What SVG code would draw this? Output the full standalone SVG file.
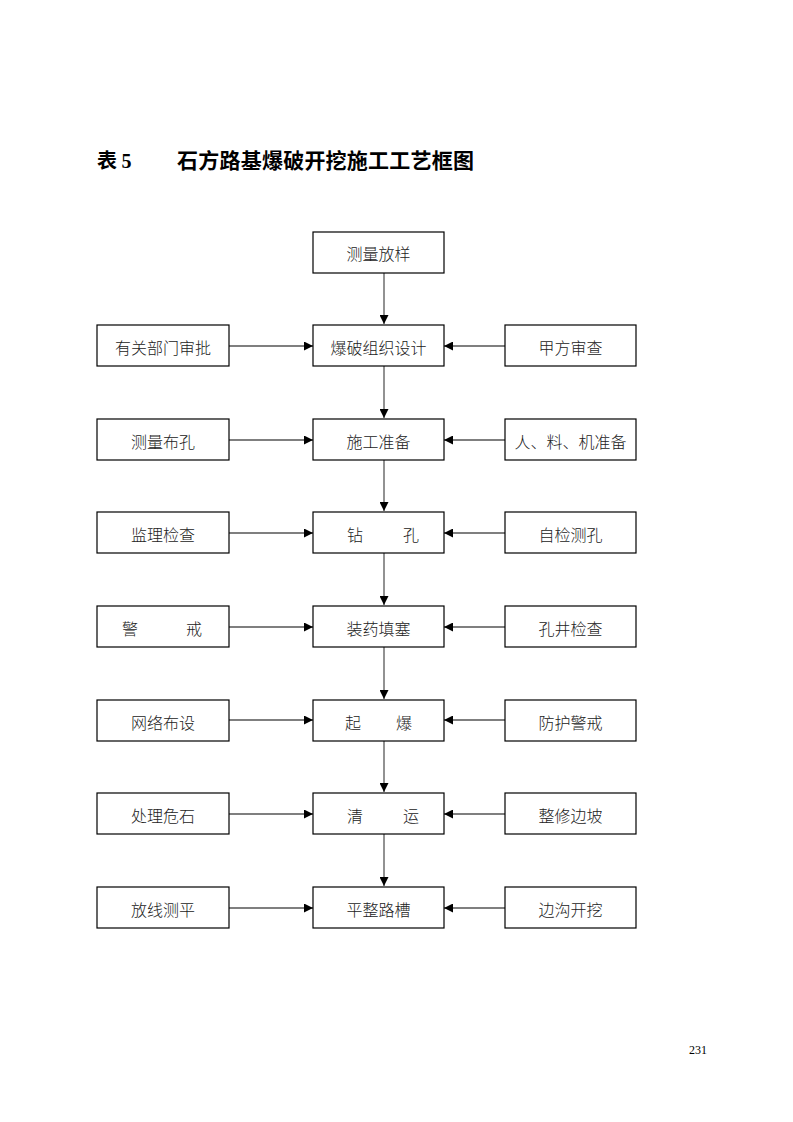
<svg xmlns="http://www.w3.org/2000/svg" width="793" height="1122" viewBox="0 0 793 1122">
<defs>
<style>
.b{fill:#fff;stroke:#000;stroke-width:1.2}
.t{font-family:"Noto Sans CJK SC","Noto Sans CJK JP",sans-serif;font-size:16px;font-weight:300;fill:#222;text-anchor:middle}
.v{stroke:#777;stroke-width:1.6;fill:none}
.h{stroke:#000;stroke-width:1.1;fill:none}
</style>
<marker id="ah" viewBox="0 0 10 10" refX="10" refY="5" markerWidth="9" markerHeight="9" markerUnits="userSpaceOnUse" orient="auto"><path d="M0,0 L10,5 L0,10 z" fill="#000"/></marker>
</defs>
<rect width="793" height="1122" fill="#fff"/>
<text x="97" y="168" style="font-family:'Noto Sans CJK SC',sans-serif;font-size:20px;font-weight:bold;fill:#000">表 <tspan style="font-family:'Liberation Serif',serif">5</tspan></text>
<text x="177" y="168" style="font-family:'Noto Sans CJK SC',sans-serif;font-size:21px;font-weight:bold;fill:#000" textLength="297">石方路基爆破开挖施工工艺框图</text>

<g id="connectors">
<line class="v" x1="384" y1="273" x2="384" y2="324" marker-end="url(#ah)"/>
<line class="v" x1="384" y1="366" x2="384" y2="418" marker-end="url(#ah)"/>
<line class="v" x1="384" y1="460" x2="384" y2="511" marker-end="url(#ah)"/>
<line class="v" x1="384" y1="553" x2="384" y2="605" marker-end="url(#ah)"/>
<line class="v" x1="384" y1="647" x2="384" y2="699" marker-end="url(#ah)"/>
<line class="v" x1="384" y1="741" x2="384" y2="792" marker-end="url(#ah)"/>
<line class="v" x1="384" y1="834" x2="384" y2="886" marker-end="url(#ah)"/>
<line class="h" x1="229" y1="346" x2="313" y2="346" marker-end="url(#ah)"/>
<line class="h" x1="505" y1="346" x2="444" y2="346" marker-end="url(#ah)"/>
<line class="h" x1="229" y1="440" x2="313" y2="440" marker-end="url(#ah)"/>
<line class="h" x1="505" y1="440" x2="444" y2="440" marker-end="url(#ah)"/>
<line class="h" x1="229" y1="533" x2="313" y2="533" marker-end="url(#ah)"/>
<line class="h" x1="505" y1="533" x2="444" y2="533" marker-end="url(#ah)"/>
<line class="h" x1="229" y1="627" x2="313" y2="627" marker-end="url(#ah)"/>
<line class="h" x1="505" y1="627" x2="444" y2="627" marker-end="url(#ah)"/>
<line class="h" x1="229" y1="720" x2="313" y2="720" marker-end="url(#ah)"/>
<line class="h" x1="505" y1="720" x2="444" y2="720" marker-end="url(#ah)"/>
<line class="h" x1="229" y1="814" x2="313" y2="814" marker-end="url(#ah)"/>
<line class="h" x1="505" y1="814" x2="444" y2="814" marker-end="url(#ah)"/>
<line class="h" x1="229" y1="908" x2="313" y2="908" marker-end="url(#ah)"/>
<line class="h" x1="505" y1="908" x2="444" y2="908" marker-end="url(#ah)"/>
</g>

<g id="n_celiang"><rect class="b" x="313" y="232" width="131" height="41"/><text class="t" x="378.5" y="260">测量放样</text></g>

<g id="n_youguan"><rect class="b" x="97" y="325" width="132" height="41"/><text class="t" x="163" y="354">有关部门审批</text></g>
<g id="n_sheji"><rect class="b" x="313" y="325" width="131" height="41"/><text class="t" x="378.5" y="354">爆破组织设计</text></g>
<g id="n_jiafang"><rect class="b" x="505" y="325" width="131" height="41"/><text class="t" x="570.5" y="354">甲方审查</text></g>

<g id="n_bukong"><rect class="b" x="97" y="419" width="132" height="41"/><text class="t" x="163" y="448">测量布孔</text></g>
<g id="n_zhunbei"><rect class="b" x="313" y="419" width="131" height="41"/><text class="t" x="378.5" y="448">施工准备</text></g>
<g id="n_renliao"><rect class="b" x="505" y="419" width="131" height="41"/><text class="t" x="570.5" y="448">人、料、机准备</text></g>

<g id="n_jianli"><rect class="b" x="97" y="512" width="132" height="41"/><text class="t" x="163" y="541">监理检查</text></g>
<g id="n_zuankong"><rect class="b" x="313" y="512" width="131" height="41"/><text class="t" x="355" y="541">钻</text><text class="t" x="411" y="541">孔</text></g>
<g id="n_zijian"><rect class="b" x="505" y="512" width="131" height="41"/><text class="t" x="570.5" y="541">自检测孔</text></g>

<g id="n_jingjie"><rect class="b" x="97" y="606" width="132" height="41"/><text class="t" x="130" y="635">警</text><text class="t" x="194" y="635">戒</text></g>
<g id="n_zhuangyao"><rect class="b" x="313" y="606" width="131" height="41"/><text class="t" x="378.5" y="635">装药填塞</text></g>
<g id="n_kongjing"><rect class="b" x="505" y="606" width="131" height="41"/><text class="t" x="570.5" y="635">孔井检查</text></g>

<g id="n_wangluo"><rect class="b" x="97" y="700" width="132" height="41"/><text class="t" x="163" y="729">网络布设</text></g>
<g id="n_qibao"><rect class="b" x="313" y="700" width="131" height="41"/><text class="t" x="353" y="729">起</text><text class="t" x="404" y="729">爆</text></g>
<g id="n_fanghu"><rect class="b" x="505" y="700" width="131" height="41"/><text class="t" x="570.5" y="729">防护警戒</text></g>

<g id="n_weishi"><rect class="b" x="97" y="793" width="132" height="41"/><text class="t" x="163" y="822">处理危石</text></g>
<g id="n_qingyun"><rect class="b" x="313" y="793" width="131" height="41"/><text class="t" x="355" y="822">清</text><text class="t" x="411" y="822">运</text></g>
<g id="n_zhengxiu"><rect class="b" x="505" y="793" width="131" height="41"/><text class="t" x="570.5" y="822">整修边坡</text></g>

<g id="n_fangxian"><rect class="b" x="97" y="887" width="132" height="41"/><text class="t" x="163" y="916">放线测平</text></g>
<g id="n_pingzheng"><rect class="b" x="313" y="887" width="131" height="41"/><text class="t" x="378.5" y="916">平整路槽</text></g>
<g id="n_biangou"><rect class="b" x="505" y="887" width="131" height="41"/><text class="t" x="570.5" y="916">边沟开挖</text></g>

<text x="707" y="1054" style="font-family:'Liberation Serif',serif;font-size:12px;fill:#000;text-anchor:end">231</text>
</svg>
